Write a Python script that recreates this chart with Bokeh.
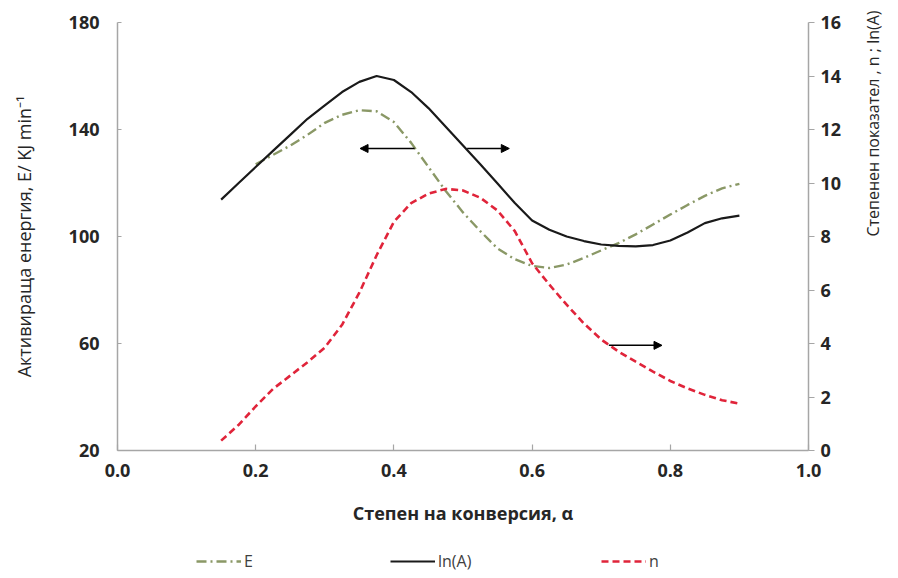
import math
from bokeh.plotting import figure
from bokeh.layouts import column
from bokeh.models import (Range1d, LinearAxis, FixedTicker, Legend, LegendItem,
                          Arrow, NormalHead)
from bokeh.embed import file_html
from bokeh.resources import INLINE

# ---- data ----
alpha = [0.15, 0.175, 0.2, 0.225, 0.25, 0.275, 0.3, 0.325, 0.35, 0.375, 0.4,
         0.425, 0.45, 0.475, 0.5, 0.525, 0.55, 0.575, 0.6, 0.625, 0.65, 0.675,
         0.7, 0.725, 0.75, 0.775, 0.8, 0.825, 0.85, 0.875, 0.9]
lnA = [9.38, 9.99, 10.6, 11.2, 11.8, 12.4, 12.9, 13.4, 13.78, 14.0, 13.85,
       13.4, 12.8, 12.1, 11.4, 10.7, 9.98, 9.25, 8.6, 8.25, 8.0, 7.83,
       7.7, 7.65, 7.63, 7.68, 7.85, 8.15, 8.5, 8.68, 8.78]
n_vals = [0.37, 0.95, 1.65, 2.3, 2.8, 3.3, 3.85, 4.7, 5.9, 7.3, 8.55,
          9.25, 9.6, 9.78, 9.72, 9.45, 8.97, 8.2, 7.0, 6.2, 5.45, 4.75,
          4.15, 3.7, 3.32, 2.95, 2.6, 2.32, 2.08, 1.88, 1.75]
alpha_E = [0.2, 0.225, 0.25, 0.275, 0.3, 0.325, 0.35, 0.375, 0.4, 0.425, 0.45,
           0.475, 0.5, 0.525, 0.55, 0.575, 0.6, 0.625, 0.65, 0.675, 0.7,
           0.725, 0.75, 0.775, 0.8, 0.825, 0.85, 0.875, 0.9]
E_vals = [127.0, 130.5, 134.0, 138.0, 142.5, 145.5, 147.2, 146.8, 142.8, 135.0,
          126.0, 117.0, 109.0, 102.0, 95.5, 91.5, 89.0, 88.2, 89.5, 92.0, 94.8,
          97.5, 100.8, 104.5, 108.2, 111.8, 115.2, 118.0, 119.7]

x_ticks = [0.0, 0.2, 0.4, 0.6, 0.8, 1.0]
x_tick_labels = ["0.0", "0.2", "0.4", "0.6", "0.8", "1.0"]
left_ticks = [20, 60, 100, 140, 180]
right_ticks = [0, 2, 4, 6, 8, 10, 12, 14, 16]
legend_labels = ["E", "ln(A)", "n"]

# annotation arrows (alpha start, alpha end, left-axis value)
arrow_x_start = [0.430, 0.506, 0.711]
arrow_x_end = [0.351, 0.567, 0.788]
arrow_y = [132.9, 132.9, 59.3]

FONT = "Open Sans"
AXIS_GRAY = "#a6a6a6"
TXT = "#262626"
STYLE_E = dict(line_color="#8a9866", line_width=2.4, line_dash="10 4 2 4")
STYLE_L = dict(line_color="#1a1a1a", line_width=2.2)
STYLE_N = dict(line_color="#e0243a", line_width=2.6, line_dash="7 4")

p = figure(width=898, height=530, output_backend="svg", toolbar_location=None,
           x_range=Range1d(0, 1), y_range=Range1d(20, 180),
           min_border_left=117, min_border_right=88, min_border_top=22,
           min_border_bottom=80, x_axis_location=None, y_axis_location=None)
p.extra_y_ranges = {"right": Range1d(0, 16)}
p.outline_line_color = None
p.xgrid.visible = False
p.ygrid.visible = False
p.background_fill_color = "white"
p.border_fill_color = "white"


def style_axis(ax, tin, tout):
    ax.axis_line_color = AXIS_GRAY
    ax.axis_line_width = 1.5
    ax.major_tick_line_color = AXIS_GRAY
    ax.major_tick_line_width = 1.2
    ax.major_tick_in = tin
    ax.major_tick_out = tout
    ax.minor_tick_line_color = None
    ax.major_label_text_font = FONT
    ax.major_label_text_font_style = "bold"
    ax.major_label_text_font_size = "18px"
    ax.major_label_text_color = TXT
    ax.axis_label_text_font = FONT
    ax.axis_label_text_color = TXT


xax = LinearAxis(ticker=FixedTicker(ticks=x_ticks),
                 major_label_overrides={t: l for t, l in zip(x_ticks, x_tick_labels)},
                 axis_label="Степен на конверсия, α")
style_axis(xax, 6, 0)
xax.major_label_standoff = 13
xax.axis_label_standoff = 21
xax.axis_label_text_font_size = "18px"
xax.axis_label_text_font_style = "bold"
p.add_layout(xax, "below")

lax = LinearAxis(ticker=FixedTicker(ticks=left_ticks),
                 axis_label="Активираща енергия, E/ KJ min⁻¹")
style_axis(lax, 4, 0)
lax.major_label_standoff = 18
lax.axis_label_standoff = 30
lax.axis_label_text_font_size = "18px"
lax.axis_label_text_font_style = "normal"
p.add_layout(lax, "left")

rax = LinearAxis(y_range_name="right", ticker=FixedTicker(ticks=right_ticks),
                 axis_label="Степенен показател , n ;   ln(A)")
style_axis(rax, 0, 6)
rax.major_label_standoff = 6
rax.axis_label_standoff = 29
rax.axis_label_text_font_size = "16px"
rax.axis_label_text_font_style = "normal"
rax.axis_label_orientation = math.pi / 2
p.add_layout(rax, "right")

p.line(alpha_E, E_vals, **STYLE_E)
p.line(alpha, lnA, y_range_name="right", **STYLE_L)
p.line(alpha, n_vals, y_range_name="right", **STYLE_N)

for xs, xe, yy in zip(arrow_x_start, arrow_x_end, arrow_y):
    p.add_layout(Arrow(end=NormalHead(size=8, fill_color="black",
                                      line_color="black"),
                       x_start=xs, y_start=yy, x_end=xe, y_end=yy,
                       line_color="black", line_width=1.5))

# ---- legend strip (series drawn out of view; only the legend shows) ----
lf = figure(width=898, height=48, output_backend="svg", toolbar_location=None,
            x_range=Range1d(0, 1), y_range=Range1d(-3, -2),
            min_border=0, x_axis_location=None, y_axis_location=None)
lf.outline_line_color = None
lf.xgrid.visible = False
lf.ygrid.visible = False
lf.border_fill_color = "white"
lf.background_fill_color = "white"

legend_series = [(alpha_E, E_vals, STYLE_E), (alpha, lnA, STYLE_L),
                 (alpha, n_vals, STYLE_N)]
legend_x = [79, 273, 484]
for label, (xs, ys, st), lx in zip(legend_labels, legend_series, legend_x):
    r = lf.line(xs, ys, **st)
    lg = Legend(items=[LegendItem(label=label, renderers=[r])],
                location=(lx, 6), orientation="horizontal",
                glyph_width=45, glyph_height=20, label_standoff=3,
                padding=0, margin=0, border_line_color=None,
                background_fill_alpha=0, label_text_font=FONT,
                label_text_font_size="16px", label_text_color="#404040")
    lf.add_layout(lg, "center")

open("out.html", "w").write(file_html(column(p, lf, spacing=0), INLINE))
